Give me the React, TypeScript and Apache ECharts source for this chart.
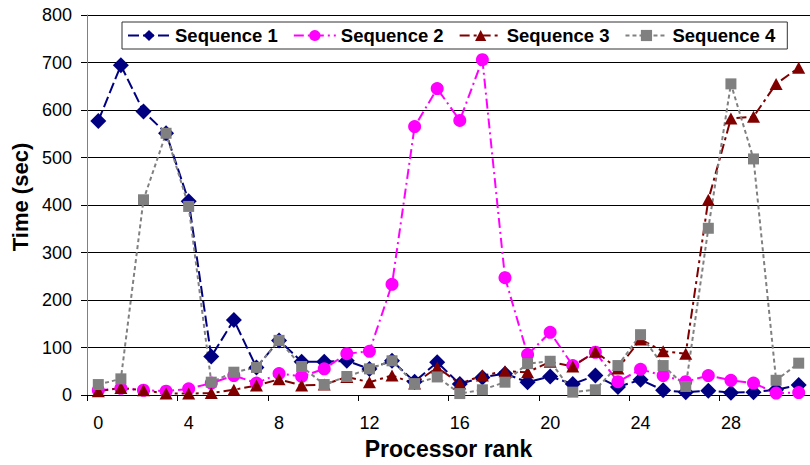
import React, { useEffect, useRef } from "react";
import * as echarts from "echarts";

const ranks = Array.from({ length: 32 }, (_, i) => String(i));
const seriesNames = ["Sequence 1", "Sequence 2", "Sequence 3", "Sequence 4"];
const seq1 = [577, 694, 597, 551, 408, 81, 158, 58, 115, 70, 70, 72, 55, 72, 28, 69, 23, 37, 45, 27, 39, 23, 41, 17, 32, 10, 6, 9, 5, 6, 11, 21];
const seq2 = [10, 14, 10, 8, 13, 25, 41, 25, 45, 39, 55, 87, 92, 233, 565, 645, 578, 706, 247, 85, 132, 62, 90, 28, 54, 41, 28, 41, 31, 25, 4, 5];
const seq3 = [8, 15, 10, 3, 3, 4, 11, 20, 33, 20, 22, 38, 27, 41, 24, 58, 24, 41, 50, 48, 70, 60, 91, 56, 117, 92, 87, 411, 582, 586, 655, 689];
const seq4 = [22, 34, 411, 551, 397, 27, 48, 58, 115, 60, 22, 39, 55, 72, 24, 38, 3, 11, 27, 66, 71, 6, 11, 62, 127, 62, 18, 351, 655, 497, 31, 67];

const FONT = "'Liberation Sans', Arial, sans-serif";

export default function App() {
  const ref = useRef<HTMLDivElement>(null);
  useEffect(() => {
    if (!ref.current) return;
    const chart = echarts.init(ref.current, undefined, { renderer: "svg" });
    const styles = [
      { color: "#000080", symbol: "diamond", size: 16, dash: [11, 4] },
      { color: "#FF00FF", symbol: "circle", size: 13, dash: [10, 4, 2, 4] },
      { color: "#800000", symbol: "triangle", size: [13, 12], dash: [10, 4, 3, 4] },
      { color: "#808080", symbol: "rect", size: 11, dash: [4, 3] },
    ];
    const data = [seq1, seq2, seq3, seq4];
    chart.setOption({
      animation: false,
      backgroundColor: "#ffffff",
      textStyle: { fontFamily: FONT },
      grid: { left: 87, top: 15, width: 725, height: 380 },
      legend: {
        data: seriesNames,
        left: 122,
        top: 22,
        padding: [4, 12, 4, 5],
        itemWidth: 42,
        itemHeight: 14,
        itemGap: 15,
        borderColor: "#333",
        borderWidth: 1,
        backgroundColor: "#fff",
        textStyle: { fontFamily: FONT, fontWeight: "bold", fontSize: 18.5, color: "#000" },
      },
      xAxis: {
        type: "category",
        data: ranks,
        boundaryGap: true,
        name: "Processor rank",
        nameLocation: "middle",
        nameGap: 42,
        nameTextStyle: { fontFamily: FONT, fontWeight: "bold", fontSize: 23, color: "#000" },
        axisLine: { lineStyle: { color: "#000", width: 1 } },
        axisTick: { show: true, interval: 3, alignWithLabel: false, length: 6, lineStyle: { color: "#000" } },
        axisLabel: { interval: 3, margin: 19, fontSize: 18, color: "#000", fontFamily: FONT },
        splitLine: { show: false },
      },
      yAxis: {
        type: "value",
        min: 0,
        max: 800,
        interval: 100,
        name: "Time (sec)",
        nameLocation: "middle",
        nameGap: 56,
        nameTextStyle: { fontFamily: FONT, fontWeight: "bold", fontSize: 22, color: "#000", padding: [0, 0, 0, 16] },
        axisLine: { show: true, lineStyle: { color: "#808080", width: 1 } },
        axisTick: { show: true, length: 6, lineStyle: { color: "#000" } },
        axisLabel: { margin: 15, fontSize: 18, color: "#000", fontFamily: FONT },
        splitLine: { show: true, lineStyle: { color: "#000", width: 1 } },
      },
      series: data.map((d, i) => ({
        name: seriesNames[i],
        type: "line",
        data: d,
        symbol: styles[i].symbol,
        symbolSize: styles[i].size,
        showAllSymbol: true,
        itemStyle: { color: styles[i].color },
        lineStyle: { color: styles[i].color, width: 2, type: styles[i].dash },
        emphasis: { disabled: true },
      })),
    });
    return () => chart.dispose();
  }, []);
  return (
    <div
      ref={ref}
      style={{ position: "fixed", left: 0, top: 0, width: 810, height: 465 }}
    />
  );
}
